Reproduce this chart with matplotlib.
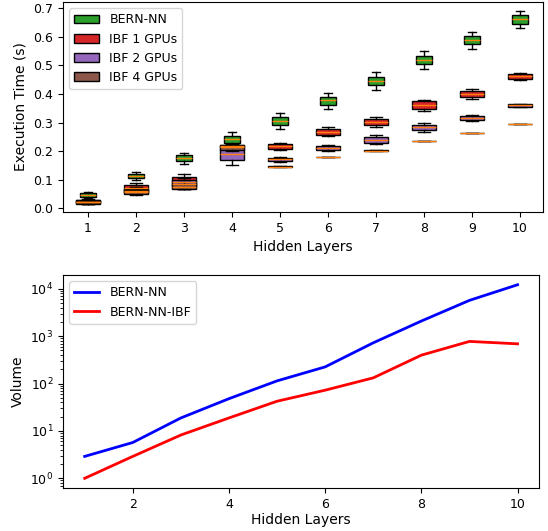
import matplotlib
matplotlib.use("Agg")
import matplotlib.pyplot as plt
import numpy as np
from matplotlib.patches import Patch

# ------------------------------------------------------------------
# Data
# ------------------------------------------------------------------
layers = [1, 2, 3, 4, 5, 6, 7, 8, 9, 10]

# Execution time box statistics: (whislo, q1, med, q3, whishi)
bern_nn_time = [
    (0.037, 0.040, 0.047, 0.054, 0.057),
    (0.100, 0.104, 0.113, 0.121, 0.125),
    (0.156, 0.164, 0.175, 0.185, 0.194),
    (0.215, 0.230, 0.244, 0.254, 0.266),
    (0.279, 0.293, 0.306, 0.320, 0.335),
    (0.347, 0.360, 0.378, 0.391, 0.405),
    (0.415, 0.431, 0.446, 0.461, 0.476),
    (0.489, 0.504, 0.519, 0.534, 0.550),
    (0.559, 0.574, 0.589, 0.604, 0.618),
    (0.632, 0.647, 0.662, 0.677, 0.691),
]
ibf_1gpu_time = [
    (0.014, 0.016, 0.023, 0.030, 0.033),
    (0.045, 0.060, 0.070, 0.080, 0.089),
    (0.066, 0.080, 0.092, 0.110, 0.121),
    (0.205, 0.212, 0.218, 0.223, 0.226),
    (0.205, 0.209, 0.217, 0.224, 0.228),
    (0.252, 0.258, 0.267, 0.277, 0.284),
    (0.283, 0.292, 0.302, 0.312, 0.319),
    (0.340, 0.348, 0.362, 0.375, 0.380),
    (0.381, 0.389, 0.399, 0.410, 0.418),
    (0.449, 0.453, 0.462, 0.469, 0.472),
]
ibf_2gpu_time = [
    (0.015, 0.018, 0.022, 0.027, 0.030),
    (0.048, 0.052, 0.060, 0.068, 0.074),
    (0.066, 0.072, 0.083, 0.100, 0.106),
    (0.152, 0.170, 0.190, 0.209, 0.225),
    (0.162, 0.166, 0.171, 0.177, 0.180),
    (0.199, 0.203, 0.211, 0.218, 0.221),
    (0.224, 0.230, 0.239, 0.250, 0.255),
    (0.267, 0.274, 0.284, 0.293, 0.300),
    (0.305, 0.308, 0.315, 0.323, 0.328),
    (0.353, 0.355, 0.360, 0.364, 0.366),
]
ibf_4gpu_time = [
    (0.016, 0.018, 0.021, 0.024, 0.026),
    (0.048, 0.050, 0.056, 0.062, 0.066),
    (0.066, 0.068, 0.075, 0.085, 0.090),
    (0.200, 0.205, 0.215, 0.222, 0.225),
    (0.144, 0.144, 0.145, 0.146, 0.146),
    (0.178, 0.178, 0.179, 0.180, 0.180),
    (0.201, 0.201, 0.202, 0.203, 0.203),
    (0.234, 0.234, 0.235, 0.236, 0.236),
    (0.263, 0.263, 0.264, 0.265, 0.265),
    (0.294, 0.294, 0.295, 0.296, 0.296),
]

# Volume per number of hidden layers
bern_nn_volume = [2.9, 5.7, 18.8, 48, 114, 225, 725, 2090, 5710, 12200]
bern_nn_ibf_volume = [1.0, 2.9, 8.2, 18.8, 42.4, 72.5, 132, 398, 776, 690]

series = [
    ("BERN-NN", bern_nn_time, "#2ca02c", 0.35),
    ("IBF 1 GPUs", ibf_1gpu_time, "#d62728", 0.5),
    ("IBF 2 GPUs", ibf_2gpu_time, "#9467bd", 0.5),
    ("IBF 4 GPUs", ibf_4gpu_time, "#8c564b", 0.5),
]


def to_stats(rows):
    return [
        {"whislo": lo, "q1": q1, "med": med, "q3": q3, "whishi": hi, "fliers": []}
        for lo, q1, med, q3, hi in rows
    ]


plt.rcParams["xtick.labelsize"] = 9
plt.rcParams["ytick.labelsize"] = 9
plt.rcParams["legend.fontsize"] = 9

fig = plt.figure(figsize=(5.48, 5.31), dpi=100)

# ------------------------------------------------------------------
# Top: execution time box plots
# ------------------------------------------------------------------
ax1 = fig.add_axes([0.115, 0.601, 0.876, 0.395])
handles = []
for label, rows, color, width in series:
    ax1.bxp(
        to_stats(rows),
        positions=layers,
        widths=width,
        patch_artist=True,
        showfliers=False,
        boxprops=dict(facecolor=color, edgecolor="black", linewidth=1.0),
        medianprops=dict(color="#ff7f0e", linewidth=1.0),
        whiskerprops=dict(color="black", linewidth=1.0),
        capprops=dict(color="black", linewidth=1.0),
        manage_ticks=False,
    )
    handles.append(Patch(facecolor=color, edgecolor="black", label=label))

ax1.set_xticks(layers)
ax1.set_yticks(np.arange(0.0, 0.71, 0.1))
ax1.set_xlim(0.48, 10.48)
ax1.set_ylim(-0.013, 0.722)
ax1.set_xlabel("Hidden Layers")
ax1.set_ylabel("Execution Time (s)")
ax1.legend(handles=handles, loc="upper left")

# ------------------------------------------------------------------
# Bottom: volume (log scale)
# ------------------------------------------------------------------
ax2 = fig.add_axes([0.115, 0.081, 0.869, 0.401])
ax2.plot(layers, bern_nn_volume, color="blue", linewidth=2, label="BERN-NN")
ax2.plot(layers, bern_nn_ibf_volume, color="red", linewidth=2, label="BERN-NN-IBF")
ax2.set_yscale("log")
ax2.set_xlabel("Hidden Layers", labelpad=2)
ax2.set_ylabel("Volume")
ax2.legend(loc="upper left")

fig.savefig("out.png", dpi=100)
